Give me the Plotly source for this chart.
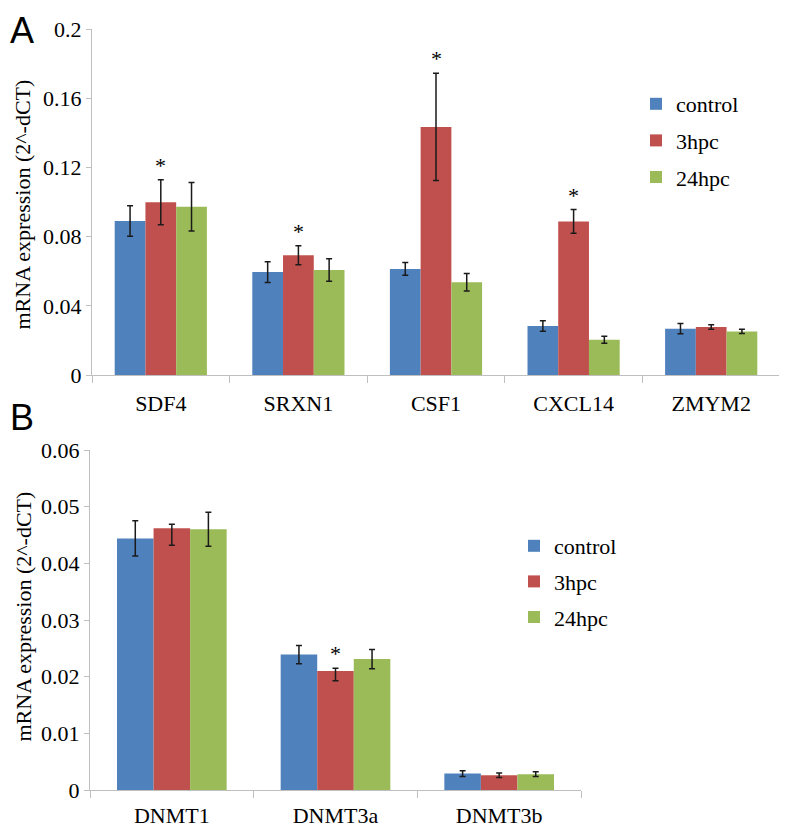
import plotly.graph_objects as go

# Panel A
genes_a = ['SDF4', 'SRXN1', 'CSF1', 'CXCL14', 'ZMYM2']
control_a = [0.089, 0.0595, 0.0613, 0.0283, 0.0268]
hpc3_a = [0.0998, 0.0692, 0.1434, 0.0888, 0.0277]
hpc24_a = [0.0973, 0.0607, 0.0536, 0.0204, 0.0252]
control_a_err = [0.0088, 0.006, 0.0037, 0.003, 0.003]
hpc3_a_err = [0.013, 0.0055, 0.031, 0.0068, 0.0013]
hpc24_a_err = [0.014, 0.0065, 0.005, 0.002, 0.0012]
star_a = [True, True, True, True, False]

# Panel B
genes_b = ['DNMT1', 'DNMT3a', 'DNMT3b']
control_b = [0.0444, 0.0239, 0.0029]
hpc3_b = [0.0462, 0.0210, 0.0026]
hpc24_b = [0.0460, 0.0231, 0.0028]
control_b_up = [0.0031, 0.0016, 0.0005]
control_b_down = [0.0031, 0.0016, 0.0005]
hpc3_b_up = [0.0007, 0.0005, 0.0004]
hpc3_b_down = [0.0030, 0.0017, 0.0004]
hpc24_b_up = [0.0030, 0.0017, 0.0004]
hpc24_b_down = [0.0030, 0.0017, 0.0004]
star_b = [False, True, False]

series = ['control', '3hpc', '24hpc']
colors = ['#4F81BD', '#C0504D', '#9BBB59']

serif = 'Liberation Serif'
grey = '#BFBFBF'
W, H = 787, 827

fig = go.Figure()

vals_a = [control_a, hpc3_a, hpc24_a]
errs_a = [control_a_err, hpc3_a_err, hpc24_a_err]
for name, col, v, e in zip(series, colors, vals_a, errs_a):
    fig.add_trace(go.Bar(x=genes_a, y=v, name=name, marker_color=col,
                         marker_line_width=0, legendgroup=name,
                         error_y=dict(type='data', array=e, color='#1a1a1a',
                                      thickness=1.5, width=3),
                         xaxis='x', yaxis='y', legend='legend'))

vals_b = [control_b, hpc3_b, hpc24_b]
ups_b = [control_b_up, hpc3_b_up, hpc24_b_up]
downs_b = [control_b_down, hpc3_b_down, hpc24_b_down]
for name, col, v, u, d in zip(series, colors, vals_b, ups_b, downs_b):
    fig.add_trace(go.Bar(x=genes_b, y=v, name=name, marker_color=col,
                         marker_line_width=0, legendgroup=name + 'b',
                         error_y=dict(type='data', array=u, arrayminus=d,
                                      color='#1a1a1a', thickness=1.5, width=3),
                         xaxis='x2', yaxis='y2', legend='legend2'))

# asterisks above the 3hpc bars (middle bar of each group)
for g, v, e, s in zip(genes_a, hpc3_a, hpc3_a_err, star_a):
    if s:
        fig.add_annotation(x=g, y=v + e, xref='x', yref='y', text='*',
                           showarrow=False, yanchor='bottom', yshift=0,
                           font=dict(family=serif, size=22, color='black'))
for g, v, e, s in zip(genes_b, hpc3_b, hpc3_b_up, star_b):
    if s:
        fig.add_annotation(x=g, y=v + e, xref='x2', yref='y2', text='*',
                           showarrow=False, yanchor='bottom', yshift=0,
                           font=dict(family=serif, size=22, color='black'))

# panel letters
fig.add_annotation(x=0.0, y=1.0, xref='paper', yref='paper', text='A',
                   showarrow=False, xanchor='left', yanchor='top',
                   font=dict(family='Liberation Sans', size=36, color='black'))
fig.add_annotation(x=0.0, y=1 - 387 / H, xref='paper', yref='paper', text='B',
                   showarrow=False, xanchor='left', yanchor='top',
                   font=dict(family='Liberation Sans', size=36, color='black'))
# y axis titles
for ypos in [1 - 197 / H, 1 - 609 / H]:
    fig.add_annotation(x=0.0, y=ypos, xref='paper', yref='paper',
                       text='mRNA expression (2^-dCT)', textangle=-90,
                       showarrow=False, xanchor='left', yanchor='middle',
                       font=dict(family=serif, size=22, color='black'))

xaxis_style = dict(showline=True, linecolor=grey, linewidth=1, ticks='outside',
                   tickson='boundaries', ticklen=7, tickcolor=grey,
                   showgrid=False, automargin=False,
                   tickfont=dict(family=serif, size=22, color='black'))
yaxis_style = dict(showline=True, linecolor=grey, linewidth=1, ticks='outside',
                   ticklen=5, tickcolor=grey, showgrid=False, zeroline=False,
                   automargin=False,
                   tickfont=dict(family=serif, size=22, color='black'))

fig.update_layout(
    width=W, height=H,
    margin=dict(l=0, r=0, t=0, b=0),
    paper_bgcolor='white', plot_bgcolor='white',
    barmode='group', bargap=0.33, bargroupgap=0,
    xaxis=dict(domain=[84 / W, 772 / W], anchor='y', ticklabelstandoff=9,
               **xaxis_style),
    yaxis=dict(domain=[1 - 367 / H, 1 - 21 / H], anchor='x',
               range=[0, 0.2], dtick=0.04, **yaxis_style),
    xaxis2=dict(domain=[82 / W, 573 / W], anchor='y2', ticklabelstandoff=6,
                **xaxis_style),
    yaxis2=dict(domain=[1 - 782 / H, 1 - 442 / H], anchor='x2',
                range=[0, 0.06], dtick=0.01, **yaxis_style),
    legend=dict(x=628 / W, y=1 - 75 / H, xanchor='left', yanchor='top',
                tracegroupgap=5, itemwidth=30,
                font=dict(family=serif, size=22, color='black'),
                bgcolor='rgba(0,0,0,0)'),
    legend2=dict(x=506 / W, y=1 - 517 / H, xanchor='left', yanchor='top',
                 tracegroupgap=4, itemwidth=30,
                 font=dict(family=serif, size=22, color='black'),
                 bgcolor='rgba(0,0,0,0)'),
    showlegend=True,
)

fig.write_html("out.html")
